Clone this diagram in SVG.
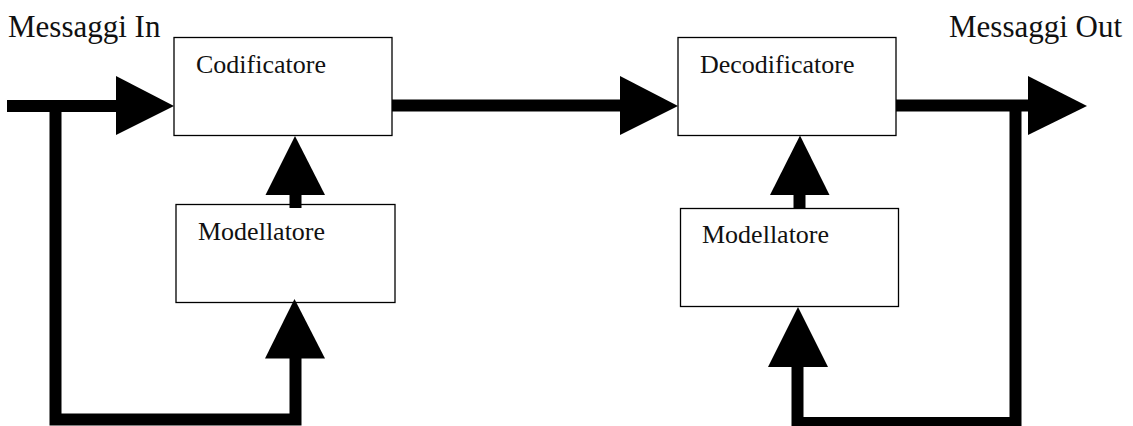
<svg xmlns="http://www.w3.org/2000/svg" width="1133" height="426" viewBox="0 0 1133 426">
  <style>
    .box { fill: #ffffff; stroke: #000000; stroke-width: 1.3; }
    .label { font-family: "Liberation Serif", "Times New Roman", serif; font-size: 26px; fill: #111111; }
    .title { font-family: "Liberation Serif", "Times New Roman", serif; font-size: 31px; fill: #111111; }
    .wire { fill: none; stroke: #000000; stroke-width: 12; stroke-linejoin: miter; stroke-linecap: butt; }
    .head { fill: #000000; stroke: none; }
  </style>
  <rect width="1133" height="426" fill="#ffffff"/>

  <text class="title" x="8" y="37">Messaggi In</text>
  <text class="title" x="949" y="37">Messaggi Out</text>

  <g id="codificatore">
    <rect class="box" x="174" y="37.5" width="218" height="98"/>
    <text class="label" x="196" y="73">Codificatore</text>
  </g>
  <g id="modellatore-in">
    <rect class="box" x="176" y="204.5" width="219" height="98"/>
    <text class="label" x="198" y="240">Modellatore</text>
  </g>
  <g id="decodificatore">
    <rect class="box" x="678" y="37.5" width="218" height="98"/>
    <text class="label" x="700" y="73">Decodificatore</text>
  </g>
  <g id="modellatore-out">
    <rect class="box" x="680.5" y="208.5" width="218" height="98"/>
    <text class="label" x="702" y="243">Modellatore</text>
  </g>

  <g id="connectors">
    <!-- input into the encoder -->
    <path class="wire" d="M7 106 H117"/>
    <polygon class="head" points="116,76 174,106 116,135"/>
    <!-- input tapped back to the encoder-side model -->
    <path class="wire" d="M55.5 106 V419.5 H295.5 V357"/>
    <polygon class="head" points="265,358.5 325,358.5 294.5,299"/>
    <!-- model into encoder -->
    <path class="wire" d="M295.5 208 V194"/>
    <polygon class="head" points="265.5,195 325,195 295,136"/>
    <!-- encoder to decoder -->
    <path class="wire" d="M392 105.5 H621"/>
    <polygon class="head" points="620,76 678,106 620,135"/>
    <!-- decoder output -->
    <path class="wire" d="M896 105.5 H1029"/>
    <polygon class="head" points="1028,76 1087,106 1028,135"/>
    <!-- output tapped back to the decoder-side model -->
    <path class="wire" d="M1015.5 111 V423 H797.5 V366"/>
    <polygon class="head" points="768,367 828,367 798,307"/>
    <!-- model into decoder -->
    <path class="wire" d="M799.5 208 V194"/>
    <polygon class="head" points="770,195 829.5,195 800,135.5"/>
  </g>
</svg>
